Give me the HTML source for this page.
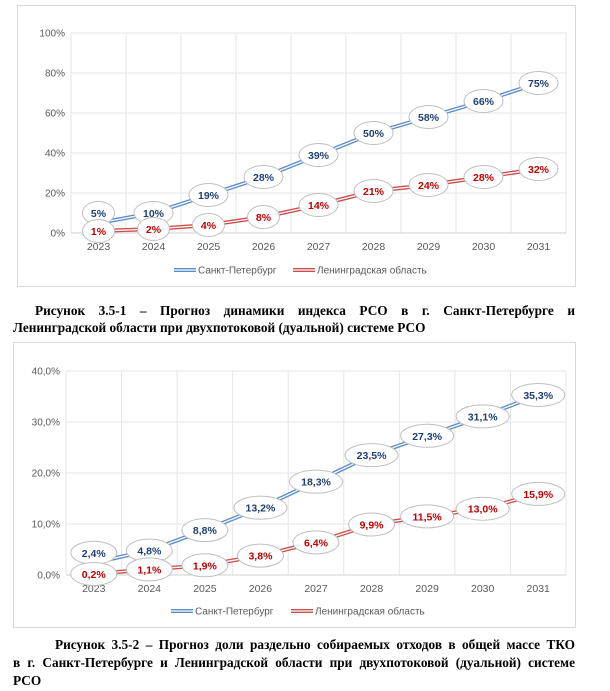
<!DOCTYPE html>
<html><head><meta charset="utf-8"><style>
body{margin:0;width:610px;height:691px;background:#fff;overflow:hidden;font-family:"Liberation Sans",sans-serif}
svg{position:absolute;left:0;top:0}
.cap{position:absolute;font-family:"Liberation Serif",serif;font-weight:bold;font-size:13.3px;color:#000;text-align:justify;text-align-last:justify;line-height:17.5px;white-space:nowrap}
</style></head><body>
<svg id="svg" width="610" height="691"></svg>
<div class="cap" style="left:35px;top:302px;width:540px">Рисунок 3.5-1 – Прогноз динамики индекса РСО в г. Санкт-Петербурге и</div>
<div class="cap" style="left:13px;top:319px;text-align-last:left">Ленинградской области при двухпотоковой (дуальной) системе РСО</div>
<div class="cap" style="left:55px;top:636px;width:520px">Рисунок 3.5-2 – Прогноз доли раздельно собираемых отходов в общей массе ТКО</div>
<div class="cap" style="left:13px;top:654px;width:562px">в г. Санкт-Петербурге и Ленинградской области при двухпотоковой (дуальной) системе</div>
<div class="cap" style="left:13px;top:672px;text-align-last:left">РСО</div>
<script>
const years = ["2023","2024","2025","2026","2027","2028","2029","2030","2031"];
const spb1 = [5,10,19,28,39,50,58,66,75];
const lo1 = [1,2,4,8,14,21,24,28,32];
const ticks1 = [0,20,40,60,80,100];
const tickLabels1 = ["0%","20%","40%","60%","80%","100%"];
const spb2 = [2.4,4.8,8.8,13.2,18.3,23.5,27.3,31.1,35.3];
const lo2 = [0.2,1.1,1.9,3.8,6.4,9.9,11.5,13.0,15.9];
const ticks2 = [0,10,20,30,40];
const tickLabels2 = ["0,0%","10,0%","20,0%","30,0%","40,0%"];
const seriesNames = ["Санкт-Петербург","Ленинградская область"];

const NS="http://www.w3.org/2000/svg";
const svg=document.getElementById('svg');
function mk(tag,attrs,parent){const e=document.createElementNS(NS,tag);for(const k in attrs)e.setAttribute(k,attrs[k]);(parent||svg).appendChild(e);return e;}

function chart(cfg){
  const g=mk('g',{});
  
  
  const box=mk('rect',{x:cfg.bx,y:cfg.by,width:cfg.bw,height:cfg.bh,fill:'#fff',stroke:'#d9d9d9','stroke-width':1},g);
  
  
  const n=years.length, step=(cfg.x1-cfg.x0)/n;
  const xs=i=>cfg.x0+step*(i+0.5);
  const ys=v=>cfg.y0-(v/cfg.max)*(cfg.y0-cfg.y1);
  for(let i=0;i<=n;i++){
    const l=mk('line',{x1:cfg.x0+step*i,x2:cfg.x0+step*i,y1:cfg.y1,y2:cfg.y0,stroke:'#e6e6e6','stroke-width':1},g);
    
    
  }
  cfg.ticks.forEach((t,i)=>{
    const y=ys(t);
    const l=mk('line',{x1:cfg.x0,x2:cfg.x1,y1:y,y2:y,stroke:i==0?'#d0d0d0':'#e6e6e6','stroke-width':1},g);
    
    
    const tx=mk('text',{x:cfg.x0-6,y:y+3.5,'text-anchor':'end','font-size':'10',fill:'#595959'},g);
    tx.textContent=cfg.tickLabels[i];
    
    
  });
  years.forEach((yr,i)=>{
    const tx=mk('text',{x:xs(i),y:cfg.y0+17,'text-anchor':'middle','font-size':'10.5',fill:'#595959'},g);
    tx.textContent=yr;
    
    
  });
  const ser=[{d:cfg.a,c:'#5b8cc8',tc:'#1f3f73',nm:'spb'},{d:cfg.b,c:'#c9504d',tc:'#c00000',nm:'lo'}];
  ser.forEach((s,si)=>{
    const pts=s.d.map((v,i)=>xs(i)+','+ys(v)).join(' ');
    const p1=mk('polyline',{points:pts,fill:'none',stroke:s.c,'stroke-width':4},g);
    
    
    mk('polyline',{points:pts,fill:'none',stroke:'#fff','stroke-width':1.3},g);
  });
  ser.forEach((s,si)=>{
    s.d.forEach((v,i)=>{
      const lbl=cfg.fmt(v);
      const w=lbl.length*7+18;
      const cy=ys(v)+((si==0&&i==0)?-10:0);
      const e=mk('ellipse',{cx:xs(i),cy:cy,rx:w/2,ry:11.5,fill:'#fff',stroke:'#bfbfbf','stroke-width':1},g);
      
      
      const t=mk('text',{x:xs(i),y:cy+4,'text-anchor':'middle','font-size':'10.5','font-weight':'bold',fill:s.tc},g);
      t.textContent=lbl;
      
      
    });
  });
  cfg.leg.forEach((lx,i)=>{
    const col=i==0?'#5b8cc8':'#c9504d';
    mk('line',{x1:lx,x2:lx+22,y1:cfg.ly,y2:cfg.ly,stroke:col,'stroke-width':4},g);
    mk('line',{x1:lx,x2:lx+22,y1:cfg.ly,y2:cfg.ly,stroke:'#fff','stroke-width':1.3},g);
    const t=mk('text',{x:lx+24,y:cfg.ly+3.5,'font-size':'10',fill:'#595959'},g);
    t.textContent=seriesNames[i];
    
    
  });
}
chart({name:'chart-rso-index',bx:17.5,by:5.5,bw:558,bh:281,x0:71,x1:566,y0:233,y1:33,max:100,ticks:ticks1,tickLabels:tickLabels1,a:spb1,b:lo1,fmt:v=>v+'%',leg:[174,293],ly:270});
chart({name:'chart-separate-collection',bx:13.5,by:342.5,bw:562,bh:285,x0:66,x1:566,y0:575,y1:371,max:40,ticks:ticks2,tickLabels:tickLabels2,a:spb2,b:lo2,fmt:v=>v.toFixed(1).replace('.',',')+'%',leg:[171,291],ly:611});
</script>
</body></html>
